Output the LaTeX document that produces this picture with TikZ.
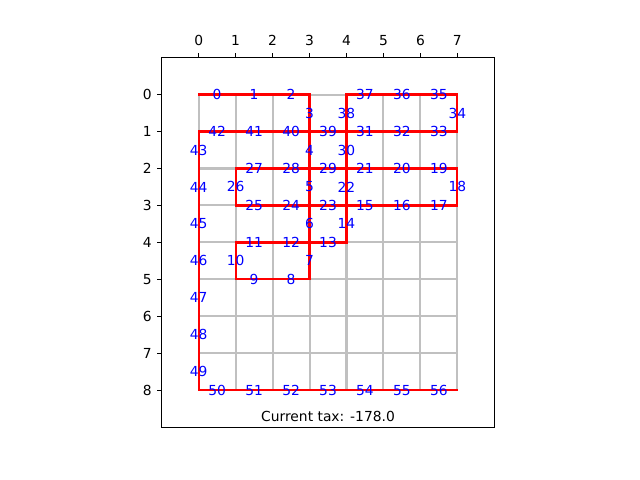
\documentclass[tikz,border=0pt]{standalone}
\usepackage{fontspec}
\setmainfont{DejaVu Sans}
\usepackage{xcolor}
\usetikzlibrary{positioning}
\definecolor{gridgray}{HTML}{C0C0C0}

\begin{document}
\begin{tikzpicture}[x=0.3696in,y=-0.3696in,
every node/.style={font=\fontsize{10}{12}\selectfont},
gridline/.style={draw=gridgray,line width=1.5pt},
route/.style={draw=red,line width=1.6pt,line join=miter,line cap=rect},
edgelabel/.style={text=blue,inner sep=0pt},
ticklabel/.style={inner sep=0pt}]
\useasboundingbox (-5.375,-2.5584) rectangle (11.941,10.4286);

% grid
\foreach \i in {0,...,7} \draw[gridline] (\i,0) -- (\i,8);
\foreach \j in {0,...,8} \draw[gridline] (0,\j) -- (7,\j);

% route
\draw[route] (0,0) -- (3,0) -- (3,5) -- (1,5) -- (1,4) -- (4,4) -- (4,3) -- (7,3) -- (7,2)
  -- (4,2) -- (4,3) -- (1,3) -- (1,2) -- (4,2) -- (4,1) -- (7,1) -- (7,0) -- (4,0) -- (4,1)
  -- (0,1) -- (0,8) -- (7,8);

% edge numbers
\foreach \x/\y/\n in {0.5/0/0,1.5/0/1,2.5/0/2,3/0.5/3,3/1.5/4,3/2.5/5,3/3.5/6,3/4.5/7,
  2.5/5/8,1.5/5/9,1/4.5/10,1.5/4/11,2.5/4/12,3.5/4/13,4/3.5/14,4.5/3/15,5.5/3/16,6.5/3/17,
  7/2.5/18,6.5/2/19,5.5/2/20,4.5/2/21,4/2.5/22,3.5/3/23,2.5/3/24,1.5/3/25,1/2.5/26,
  1.5/2/27,2.5/2/28,3.5/2/29,4/1.5/30,4.5/1/31,5.5/1/32,6.5/1/33,7/0.5/34,6.5/0/35,
  5.5/0/36,4.5/0/37,4/0.5/38,3.5/1/39,2.5/1/40,1.5/1/41,0.5/1/42,0/1.5/43,0/2.5/44,
  0/3.5/45,0/4.5/46,0/5.5/47,0/6.5/48,0/7.5/49,0.5/8/50,1.5/8/51,2.5/8/52,3.5/8/53,
  4.5/8/54,5.5/8/55,6.5/8/56}
  \node[edgelabel] (lab\n) at (\x,\y) {\n};

\node[ticklabel] (taxlabel) at (3.5,8.71) {Current tax: -178.0};

% axes frame and ticks
\draw[line width=0.8pt] (-1,-1) rectangle (8,9);
\foreach \i in {0,...,7} {
  \draw[line width=0.8pt] (\i,-1) -- ++(0,3.5pt);
  \node[ticklabel,anchor=base] (xtick\i) at ([yshift=9.1pt]\i,-1) {\i};
}
\foreach \j in {0,...,8} {
  \draw[line width=0.8pt] (-1,\j) -- ++(-3.5pt,0);
  \node[ticklabel,anchor=east] (ytick\j) at ([xshift=-7pt]-1,\j) {\j};
}
\end{tikzpicture}
\end{document}
